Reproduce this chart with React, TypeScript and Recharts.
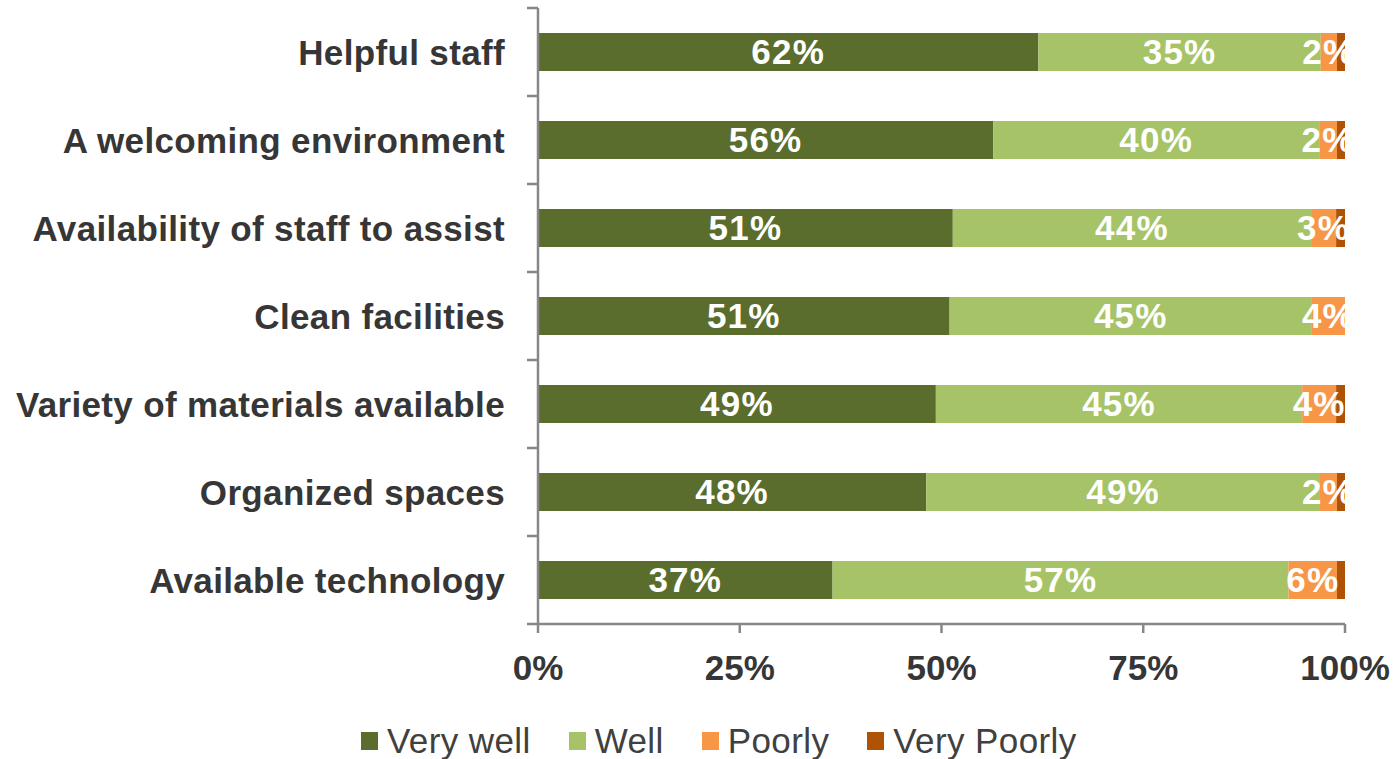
import { BarChart, Bar, XAxis, YAxis, LabelList } from 'recharts';

const categories = [
  'Helpful staff',
  'A welcoming environment',
  'Availability of staff to assist',
  'Clean facilities',
  'Variety of materials available',
  'Organized spaces',
  'Available technology',
];
const veryWell = [62.0, 56.4, 51.4, 51.0, 49.3, 48.1, 36.5];
const well = [35.0, 40.4, 44.4, 44.9, 45.4, 48.8, 56.5];
const poorly = [2.0, 2.2, 3.1, 4.1, 4.2, 2.1, 6.0];
const veryPoorly = [1.0, 1.0, 1.1, 0.0, 1.1, 1.0, 1.0];
const xTicks = [0, 25, 50, 75, 100];

const series = [
  { key: 'veryWell', name: 'Very well', color: '#5A6D2D', label: true },
  { key: 'well', name: 'Well', color: '#A6C467', label: true },
  { key: 'poorly', name: 'Poorly', color: '#F79646', label: true },
  { key: 'veryPoorly', name: 'Very Poorly', color: '#B05204', label: false },
];

const data = categories.map((name, i) => ({
  name,
  veryWell: veryWell[i],
  well: well[i],
  poorly: poorly[i],
  veryPoorly: veryPoorly[i],
}));

const FONT = '"Liberation Sans", Arial, sans-serif';
const AXIS = '#878787';

const CategoryTick = (props: any) => {
  const { x, y, payload, index } = props;
  const half = payload?.offset || 44;
  return (
    <g>
      <text
        x={x - 33}
        y={y}
        textAnchor="end"
        dominantBaseline="central"
        fontFamily={FONT}
        fontWeight="bold"
        fontSize={35}
        letterSpacing={0.35}
        fill="#363636"
      >
        {payload.value}
      </text>
      <line x1={x - 11} x2={x} y1={y + half} y2={y + half} stroke={AXIS} strokeWidth={2.5} />
      {index === 0 && (
        <line x1={x - 11} x2={x} y1={y - half} y2={y - half} stroke={AXIS} strokeWidth={2.5} />
      )}
    </g>
  );
};

export default function App() {
  return (
    <div style={{ position: 'absolute', left: 0, top: 0, width: 1395, height: 759, background: '#fff' }}>
      <BarChart
        width={1395}
        height={759}
        data={data}
        layout="vertical"
        margin={{ top: 8, right: 50, left: 0, bottom: 65 }}
      >
        <XAxis
          type="number"
          domain={[0, 100]}
          ticks={xTicks}
          tickFormatter={(v) => `${v}%`}
          height={70}
          stroke={AXIS}
          strokeWidth={2.5}
          tickSize={9}
          tickMargin={22}
          tick={{ fill: '#363636', fontSize: 35, fontWeight: 'bold', fontFamily: FONT }}
          allowDataOverflow
        />
        <YAxis
          type="category"
          dataKey="name"
          width={538}
          stroke={AXIS}
          strokeWidth={2.5}
          tickLine={false}
          tickSize={0}
          tickMargin={0}
          tick={<CategoryTick />}
          interval={0}
        />
        {series.map((s) => (
          <Bar
            key={s.key}
            dataKey={s.key}
            name={s.name}
            stackId="a"
            fill={s.color}
            barSize={38}
            isAnimationActive={false}
          >
            {s.label && (
              <LabelList
                dataKey={s.key}
                position="center"
                formatter={(v: any) => `${Math.round(Number(v))}%`}
                fill="#FFFFFF"
                fontSize={35}
                fontWeight="bold"
                fontFamily={FONT}
                letterSpacing={1.2}
              />
            )}
          </Bar>
        ))}
      </BarChart>
      <div
        style={{
          position: 'absolute',
          left: 361,
          top: 721,
          display: 'flex',
          alignItems: 'center',
          fontFamily: FONT,
          fontSize: 35,
          color: '#404040',
          lineHeight: '40px',
          letterSpacing: 0.4,
          whiteSpace: 'nowrap',
        }}
      >
        {series.map((s) => (
          <div key={s.key} style={{ display: 'flex', alignItems: 'center', marginRight: 38 }}>
            <span style={{ display: 'inline-block', width: 17, height: 18, background: s.color, marginRight: 9 }} />
            <span>{s.name}</span>
          </div>
        ))}
      </div>
    </div>
  );
}
